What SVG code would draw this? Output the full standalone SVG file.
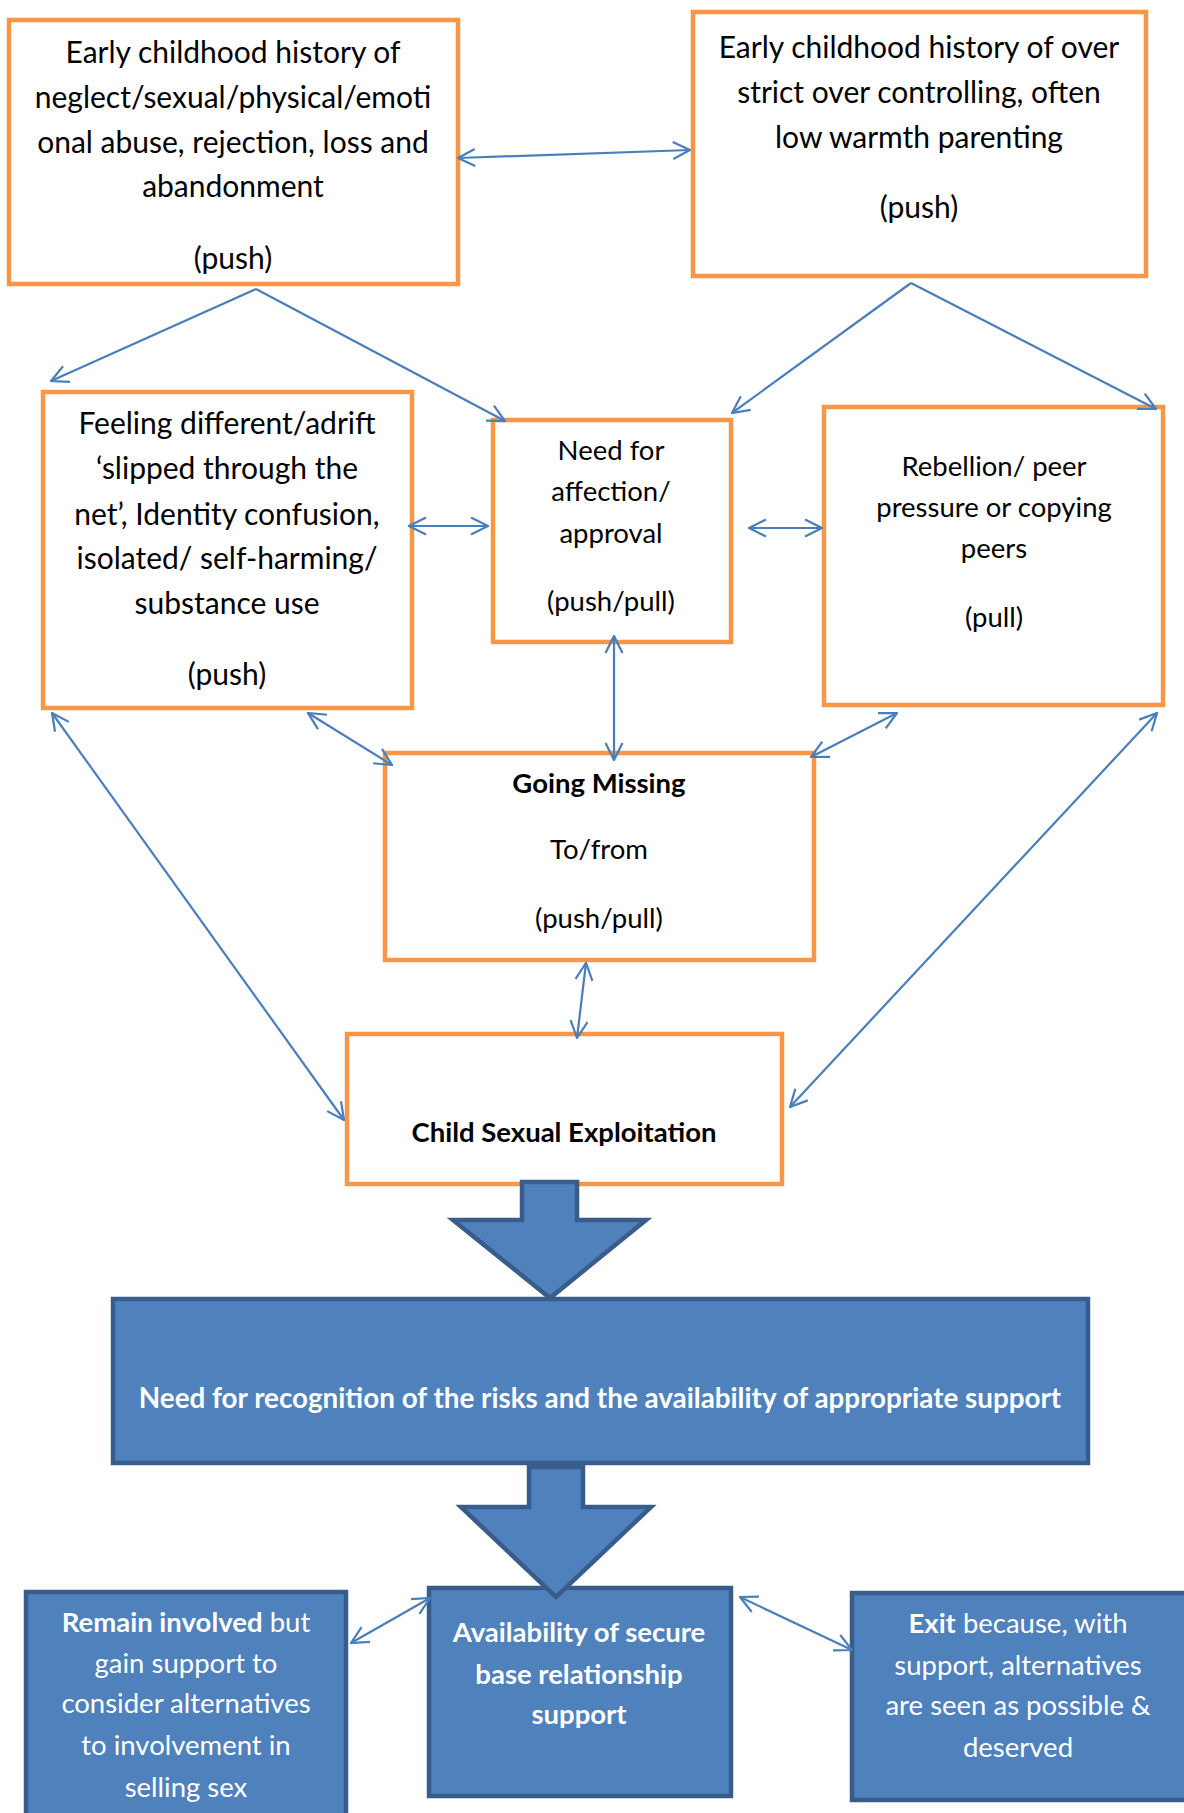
<svg xmlns="http://www.w3.org/2000/svg" width="1184" height="1813" viewBox="0 0 1184 1813">
<style>
.ob{fill:#fff;stroke:#F79646;stroke-width:4.5}
.bb{fill:#4F81BD;stroke:#385D8A;stroke-width:4.5}
.t{font-family:Lato,"Liberation Sans",sans-serif;fill:#000;text-anchor:middle}
.l{font-size:30px}
.m{font-size:27.5px}
.w{font-family:Lato,"Liberation Sans",sans-serif;fill:#fff;text-anchor:middle;font-size:27.5px}
.b{font-weight:bold}
.c{stroke:#4A7EBB;stroke-width:2.2;fill:none}
</style>
<defs>
<marker id="ah" viewBox="0 0 20 20" refX="19" refY="10" markerWidth="20" markerHeight="20" markerUnits="userSpaceOnUse" orient="auto-start-reverse">
<path d="M2,1.5 L19,10 L2,18.5" fill="none" stroke="#4A7EBB" stroke-width="2.2"/>
</marker>
</defs>
<rect width="1184" height="1813" fill="#fff"/>

<g id="n1">
<rect class="ob" x="9" y="20" width="449" height="264"/>
<text class="t l" x="233" y="63">Early childhood history of</text>
<text class="t l" x="233" y="108">neglect/sexual/physical/emoti</text>
<text class="t l" x="233" y="153">onal abuse, rejection, loss and</text>
<text class="t l" x="233" y="197">abandonment</text>
<text class="t l" x="233" y="269">(push)</text>
</g>
<g id="n2">
<rect class="ob" x="693" y="12" width="453" height="264"/>
<text class="t l" x="919" y="58">Early childhood history of over</text>
<text class="t l" x="919" y="103">strict over controlling, often</text>
<text class="t l" x="919" y="148">low warmth parenting</text>
<text class="t l" x="919" y="218">(push)</text>
</g>
<g id="n3">
<rect class="ob" x="43" y="392" width="369" height="316"/>
<text class="t l" x="227" y="434">Feeling different/adrift</text>
<text class="t l" x="227" y="479">‘slipped through the</text>
<text class="t l" x="227" y="525">net’, Identity confusion,</text>
<text class="t l" x="227" y="569">isolated/ self-harming/</text>
<text class="t l" x="227" y="614">substance use</text>
<text class="t l" x="227" y="685">(push)</text>
</g>
<g id="n4">
<rect class="ob" x="493" y="420" width="238" height="222"/>
<text class="t m" x="611" y="460">Need for</text>
<text class="t m" x="611" y="501">affection/</text>
<text class="t m" x="611" y="543">approval</text>
<text class="t m" x="611" y="611">(push/pull)</text>
</g>
<g id="n5">
<rect class="ob" x="824" y="407" width="339" height="298"/>
<text class="t m" x="994" y="476">Rebellion/ peer</text>
<text class="t m" x="994" y="517">pressure or copying</text>
<text class="t m" x="994" y="558">peers</text>
<text class="t m" x="994" y="627">(pull)</text>
</g>
<g id="n6">
<rect class="ob" x="385" y="753" width="429" height="207"/>
<text class="t m b" x="599" y="793">Going Missing</text>
<text class="t m" x="599" y="859">To/from</text>
<text class="t m" x="599" y="928">(push/pull)</text>
</g>
<g id="n7">
<rect class="ob" x="347" y="1034" width="435" height="150"/>
<text class="t m b" x="564" y="1142">Child Sexual Exploitation</text>
</g>

<g id="n8">
<rect class="bb" x="113" y="1299" width="975" height="164"/>
<text class="w b" x="600" y="1408" style="font-size:27.8px">Need for recognition of the risks and the availability of appropriate support</text>
</g>
<g id="n9">
<rect class="bb" x="26" y="1592" width="320" height="230"/>
<text class="w" x="186" y="1632"><tspan class="b">Remain involved</tspan> but</text>
<text class="w" x="186" y="1673">gain support to</text>
<text class="w" x="186" y="1713">consider alternatives</text>
<text class="w" x="186" y="1755">to involvement in</text>
<text class="w" x="186" y="1797">selling sex</text>
</g>
<g id="n10">
<rect class="bb" x="429" y="1588" width="302" height="208"/>
<text class="w b" x="579" y="1642">Availability of secure</text>
<text class="w b" x="579" y="1684">base relationship</text>
<text class="w b" x="579" y="1724">support</text>
</g>
<g id="n11">
<rect class="bb" x="852" y="1593" width="340" height="207"/>
<text class="w" x="1018" y="1633"><tspan class="b">Exit</tspan> because, with</text>
<text class="w" x="1018" y="1675">support, alternatives</text>
<text class="w" x="1018" y="1715">are seen as possible &amp;</text>
<text class="w" x="1018" y="1757">deserved</text>
</g>

<g id="bigarrows">
<polygon class="bb" points="522,1182 577,1182 577,1220 646,1220 550,1298 453,1220 522,1220"/>
<polygon class="bb" points="529,1467 583,1467 583,1507 651,1507 556,1597 461,1507 529,1507"/>
</g>

<g id="connectors">
<line class="c" x1="458" y1="158" x2="690" y2="150" marker-start="url(#ah)" marker-end="url(#ah)"/>
<line class="c" x1="256" y1="289" x2="51" y2="381" marker-end="url(#ah)"/>
<line class="c" x1="256" y1="289" x2="505" y2="421" marker-end="url(#ah)"/>
<line class="c" x1="911" y1="283" x2="732" y2="413" marker-end="url(#ah)"/>
<line class="c" x1="911" y1="283" x2="1156" y2="409" marker-end="url(#ah)"/>
<line class="c" x1="409" y1="526" x2="488" y2="526" marker-start="url(#ah)" marker-end="url(#ah)"/>
<line class="c" x1="749" y1="528" x2="822" y2="528" marker-start="url(#ah)" marker-end="url(#ah)"/>
<line class="c" x1="614" y1="636" x2="614" y2="760" marker-start="url(#ah)" marker-end="url(#ah)"/>
<line class="c" x1="308" y1="713" x2="392" y2="765" marker-start="url(#ah)" marker-end="url(#ah)"/>
<line class="c" x1="897" y1="713" x2="811" y2="757" marker-start="url(#ah)" marker-end="url(#ah)"/>
<line class="c" x1="586" y1="963" x2="577" y2="1038" marker-start="url(#ah)" marker-end="url(#ah)"/>
<line class="c" x1="52" y1="713" x2="344" y2="1120" marker-start="url(#ah)" marker-end="url(#ah)"/>
<line class="c" x1="1157" y1="713" x2="790" y2="1107" marker-start="url(#ah)" marker-end="url(#ah)"/>
<line class="c" x1="351" y1="1643" x2="430" y2="1598" marker-start="url(#ah)" marker-end="url(#ah)"/>
<line class="c" x1="740" y1="1597" x2="852" y2="1650" marker-start="url(#ah)" marker-end="url(#ah)"/>
</g>
</svg>
